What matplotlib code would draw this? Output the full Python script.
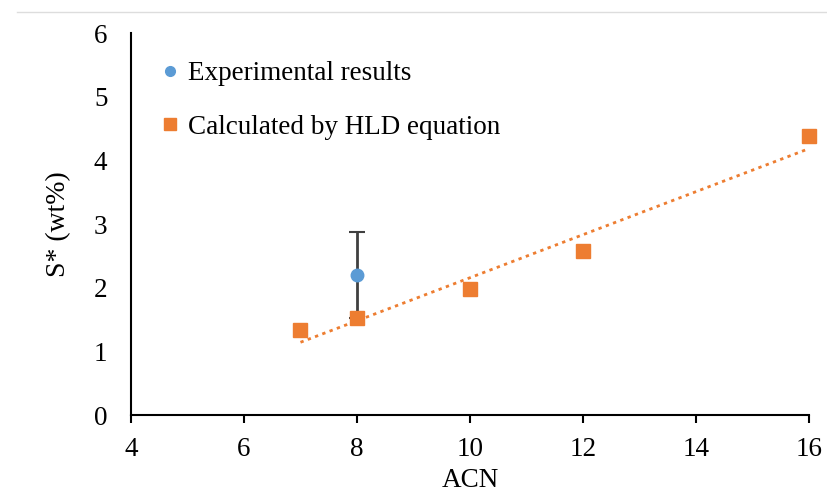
import matplotlib.pyplot as plt
from matplotlib.lines import Line2D
import numpy as np

plt.rcParams['font.family'] = ['Liberation Serif', 'DejaVu Serif']

acn_exp = [8]
s_exp = [2.2]
s_exp_err = [0.68]

acn_calc = [7, 8, 10, 12, 16]
s_calc = [1.34, 1.52, 1.98, 2.58, 4.38]

fig = plt.figure(figsize=(8.28, 4.93), dpi=100)
ax = fig.add_axes([0.1582, 0.158, 0.8188, 0.775])

# linear trendline for the calculated points
p = np.polyfit(acn_calc, s_calc, 1)
xt = np.array([min(acn_calc), max(acn_calc)])
ax.plot(xt, np.polyval(p, xt), ls=(0, (1.2, 1.6)), color='#ED7D31', lw=2, zorder=2)

ax.errorbar(acn_exp, s_exp, yerr=s_exp_err, fmt='o', color='#5B9BD5', ms=9,
            ecolor='#404040', elinewidth=2, capsize=6, capthick=1.5, zorder=3)
ax.plot(acn_calc, s_calc, 's', color='#ED7D31', ms=10, ls='none', zorder=4,
        clip_on=False)

ax.set_xlim(4, 16)
ax.set_ylim(0, 6)
ax.set_xticks(range(4, 17, 2))
ax.set_yticks(range(0, 7))
for s in ['top', 'right']:
    ax.spines[s].set_visible(False)
for s in ['left', 'bottom']:
    ax.spines[s].set_linewidth(1.5)
ax.tick_params(axis='x', direction='out', length=6, width=1.5, labelsize=19.5, pad=10)
ax.tick_params(axis='y', length=0, labelsize=19.5, pad=17)
ax.set_xlabel('ACN', fontsize=19.5, labelpad=4)
ax.set_ylabel('S* (wt%)', fontsize=20, labelpad=16)

h = [Line2D([], [], marker='o', color='#5B9BD5', ms=7, ls='none'),
     Line2D([], [], marker='s', color='#ED7D31', ms=8, ls='none')]
l = ['Experimental results', 'Calculated by HLD equation']
ax.legend(h, l, loc='upper left', bbox_to_anchor=(0.012, 0.99), frameon=False,
          fontsize=19.5, handlelength=0.5, handletextpad=0.4, labelspacing=1.05)

fig.add_artist(plt.Line2D([0.02, 1], [0.975, 0.975], color='#dddddd', lw=1))

fig.savefig('out.png', dpi=100)
